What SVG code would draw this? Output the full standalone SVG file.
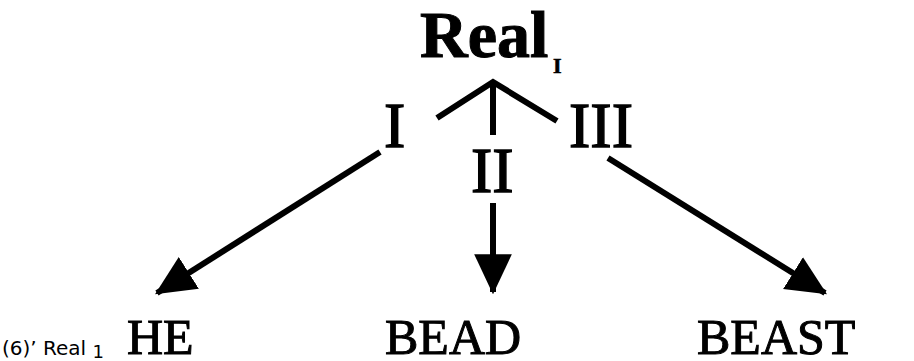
<svg xmlns="http://www.w3.org/2000/svg" width="914" height="361" viewBox="0 0 914 361">
<style>
.serif{font-family:"Liberation Serif","Times New Roman",serif;fill:#000;stroke:#000}
.num{font-size:64px;stroke-width:1.4}
.word{font-size:50px;stroke-width:1}
.small{font-family:"DejaVu Sans",Verdana,sans-serif;font-size:20px;fill:#000}
.ln{stroke:#000;stroke-width:6;fill:none;stroke-linecap:butt}
</style>
<defs>
<marker id="ah" markerUnits="userSpaceOnUse" markerWidth="40" markerHeight="40" viewBox="0 0 34 32" refX="32" refY="16" orient="auto">
<path d="M0,0 L34,16 L0,32 Z" fill="#000"/>
</marker>
</defs>
<rect width="914" height="361" fill="#fff"/>
<g id="root">
<text class="serif" x="420" y="57" font-size="66" font-weight="bold" stroke-width="1">Real</text>
<text class="serif" x="553" y="73" font-size="22" font-weight="bold" stroke-width="0.6">I</text>
</g>
<g id="label-I"><text class="serif num" x="384" y="147">I</text></g>
<g id="label-II"><text class="serif num" x="471" y="192">II</text></g>
<g id="label-III"><text class="serif num" x="569" y="147">III</text></g>
<g id="HE"><text class="serif word" x="127" y="354">HE</text></g>
<g id="BEAD"><text class="serif word" x="385" y="354">BEAD</text></g>
<g id="BEAST"><text class="serif word" x="697" y="354">BEAST</text></g>
<g id="caption"><text class="small" x="2" y="355">(6)’ Real <tspan font-size="18" dy="3">1</tspan></text></g>
<g id="connectors">
<polyline class="ln" points="437,118 493,82 557,121"/>
<line class="ln" x1="493" y1="82" x2="493" y2="135"/>
<line class="ln" x1="380" y1="152" x2="157" y2="293" marker-end="url(#ah)"/>
<line class="ln" x1="493" y1="203" x2="493" y2="292" marker-end="url(#ah)"/>
<line class="ln" x1="608" y1="158" x2="825" y2="293" marker-end="url(#ah)"/>
</g>
</svg>
